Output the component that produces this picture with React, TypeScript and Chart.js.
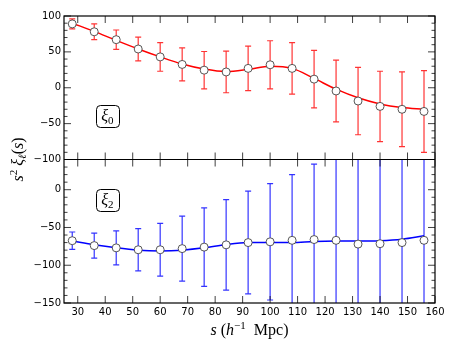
import React, { useEffect, useRef } from 'react';
import { Chart, registerables } from 'chart.js';

Chart.register(...registerables);

// ---- data ----
const sValues = [28, 36, 44, 52, 60, 68, 76, 84, 92, 100, 108, 116, 124, 132, 140, 148, 156];

const xi0Values = [89, 78, 67, 54, 43, 32.5, 24.5, 22, 27, 32, 27, 12, -4.5, -18.5, -26, -30, -33];
const xi0Errors = [7, 11, 13.5, 16.5, 20, 23, 26, 29, 31, 33.5, 36, 40, 43, 47, 49, 52, 57];
const xi0Model = [90, 78.5, 66, 54, 43, 33, 26, 22.5, 25.5, 30, 27, 13, -2, -14, -22.5, -27.5, -30];

const xi2Values = [-67.5, -74, -77, -79.5, -79.5, -78, -76, -73, -70, -69, -67, -66, -67, -72, -71.5, -70, -67];
const xi2Errors = [11.5, 16.5, 22.5, 28, 35, 43, 52, 60, 68, 77, 87, 100, 112, 125, 138, 150, 165];
const xi2Model = [-68, -73, -77, -80, -81, -80, -77, -72.5, -70, -70, -70, -68.5, -68, -68, -67.5, -65.5, -61];

const xTicks = [30, 40, 50, 60, 70, 80, 90, 100, 110, 120, 130, 140, 150, 160];
const yTopTicks = [-100, -50, 0, 50, 100];
const yBotTicks = [-150, -100, -50, 0];

const xRange = [25, 160];
const yTopRange = [-100, 100];
const yBotRange = [-150, 40];

const TICK_FONT = { family: 'DejaVu Sans', size: 10 };
const SERIF = 'Liberation Serif';

const fmt = (v: number) => (v < 0 ? '\u2212' + Math.abs(v) : String(v));

type Run = { t: string; size: number; italic?: boolean; dy?: number };

function runsWidth(ctx: CanvasRenderingContext2D, runs: Run[]) {
  let w = 0;
  for (const r of runs) {
    ctx.font = `${r.italic ? 'italic ' : ''}${r.size}px "${SERIF}"`;
    w += ctx.measureText(r.t).width;
  }
  return w;
}

function drawRuns(ctx: CanvasRenderingContext2D, runs: Run[], cx: number, baseline: number) {
  const w = runsWidth(ctx, runs);
  let x = cx - w / 2;
  ctx.textAlign = 'left';
  ctx.textBaseline = 'alphabetic';
  ctx.fillStyle = '#000';
  for (const r of runs) {
    ctx.font = `${r.italic ? 'italic ' : ''}${r.size}px "${SERIF}"`;
    ctx.fillText(r.t, x, baseline + (r.dy || 0));
    x += ctx.measureText(r.t).width;
  }
}

const errorSets = [
  { axis: 'yTop', values: xi0Values, errors: xi0Errors, color: 'rgba(255,0,0,0.8)' },
  { axis: 'yBot', values: xi2Values, errors: xi2Errors, color: 'rgba(0,0,255,0.8)' },
];

const panelPlugin = {
  id: 'panelPlugin',
  beforeDatasetsDraw(chart: any) {
    const ctx: CanvasRenderingContext2D = chart.ctx;
    const xs = chart.scales.x;
    const area = chart.chartArea;
    for (const set of errorSets) {
      const ys = chart.scales[set.axis];
      ctx.save();
      ctx.beginPath();
      ctx.rect(area.left, ys.top, area.right - area.left, ys.bottom - ys.top);
      ctx.clip();
      ctx.strokeStyle = set.color;
      ctx.lineWidth = 1.2;
      sValues.forEach((s, i) => {
        const px = xs.getPixelForValue(s);
        const hi = ys.getPixelForValue(set.values[i] + set.errors[i]);
        const lo = ys.getPixelForValue(set.values[i] - set.errors[i]);
        ctx.beginPath();
        ctx.moveTo(px, hi);
        ctx.lineTo(px, lo);
        ctx.moveTo(px - 3, hi);
        ctx.lineTo(px + 3, hi);
        ctx.moveTo(px - 3, lo);
        ctx.lineTo(px + 3, lo);
        ctx.stroke();
      });
      ctx.restore();
    }
  },
  afterDraw(chart: any) {
    const ctx: CanvasRenderingContext2D = chart.ctx;
    const area = chart.chartArea;
    const xs = chart.scales.x;
    const panels = [
      { s: chart.scales.yTop, ticks: yTopTicks, range: yTopRange, label: '0' },
      { s: chart.scales.yBot, ticks: yBotTicks, range: yBotRange, label: '2' },
    ];
    ctx.save();
    // ticks
    ctx.lineWidth = 1;
    for (const p of panels) {
      const top = p.s.top;
      const bot = p.s.bottom;
      ctx.beginPath();
      for (const v of xTicks) {
        const px = xs.getPixelForValue(v);
        ctx.moveTo(px, top);
        ctx.lineTo(px, top + 7);
        ctx.moveTo(px, bot);
        ctx.lineTo(px, bot - 7);
      }
      for (let v = Math.ceil(p.range[0] / 10) * 10; v <= p.range[1]; v += 10) {
        const py = p.s.getPixelForValue(v);
        const len = p.ticks.includes(v) ? 7 : 3.5;
        ctx.moveTo(area.left, py);
        ctx.lineTo(area.left + len, py);
        ctx.moveTo(area.right, py);
        ctx.lineTo(area.right - len, py);
      }
      ctx.strokeStyle = 'rgba(0,0,0,0.75)';
      ctx.stroke();
    }
    // frame and separator
    ctx.strokeStyle = '#000';
    ctx.lineWidth = 1.2;
    ctx.strokeRect(area.left, area.top, area.right - area.left, area.bottom - area.top);
    ctx.beginPath();
    ctx.moveTo(area.left, chart.scales.yTop.bottom);
    ctx.lineTo(area.right, chart.scales.yTop.bottom);
    ctx.stroke();

    // panel labels
    for (const p of panels) {
      const cx = area.left + 0.117 * (area.right - area.left);
      const cy = p.s.top + (p.label === '0' ? 0.695 : 0.28) * (p.s.bottom - p.s.top);
      const w = 23;
      const h = 22;
      ctx.fillStyle = '#fff';
      ctx.strokeStyle = '#000';
      ctx.lineWidth = 1;
      ctx.beginPath();
      (ctx as any).roundRect(Math.round(cx - w / 2) + 0.5, Math.round(cy - h / 2) + 0.5, w, h, 4);
      ctx.fill();
      ctx.stroke();
      drawRuns(
        ctx,
        [
          { t: '\u03BE', size: 16, italic: true },
          { t: p.label, size: 11, dy: 3 },
        ],
        cx,
        cy + 5
      );
    }

    // x title
    drawRuns(
      ctx,
      [
        { t: 's', size: 16, italic: true },
        { t: ' (', size: 16 },
        { t: 'h', size: 16, italic: true },
        { t: '\u22121', size: 11, dy: -6 },
        { t: '  Mpc)', size: 16 },
      ],
      (area.left + area.right) / 2,
      335
    );

    // y title
    ctx.save();
    ctx.translate(23, (area.top + area.bottom) / 2);
    ctx.rotate(-Math.PI / 2);
    drawRuns(
      ctx,
      [
        { t: 's', size: 16, italic: true },
        { t: '2', size: 11, dy: -6 },
        { t: ' \u03BE', size: 16, italic: true },
        { t: '\u2113', size: 11, italic: true, dy: 3 },
        { t: '(', size: 16 },
        { t: 's', size: 16, italic: true },
        { t: ')', size: 16 },
      ],
      0,
      0
    );
    ctx.restore();
    ctx.restore();
  },
};

const pts = (ys: number[]) => sValues.map((x, i) => ({ x, y: ys[i] }));

export default function App() {
  const ref = useRef<HTMLCanvasElement>(null);
  useEffect(() => {
    const canvas = ref.current!;
    const yCommon = (ticks: number[]) => ({
      type: 'linear' as const,
      position: 'left' as const,
      stack: 'panels',
      stackWeight: 1,
      grid: { display: false, drawTicks: false },
      border: { display: false },
      ticks: {
        padding: 3,
        color: '#000',
        font: TICK_FONT,
        autoSkip: false,
        callback: (v: any) => fmt(Number(v)),
      },
      afterBuildTicks: (s: any) => {
        s.ticks = ticks.map((v) => ({ value: v }));
      },
      afterFit: (s: any) => {
        s.width = 64;
      },
    });
    const marker = {
      showLine: false,
      pointRadius: 4,
      pointBackgroundColor: '#fff',
      pointBorderColor: '#444',
      pointBorderWidth: 0.9,
      order: 0,
    };
    const chart = new Chart(canvas, {
      type: 'line',
      data: {
        datasets: [
          { label: 'xi0 data', data: pts(xi0Values), yAxisID: 'yTop', ...marker },
          { label: 'xi2 data', data: pts(xi2Values), yAxisID: 'yBot', ...marker },
          {
            label: 'xi0 model',
            data: pts(xi0Model),
            yAxisID: 'yTop',
            borderColor: '#ff0000',
            borderWidth: 1.5,
            pointRadius: 0,
            cubicInterpolationMode: 'monotone',
            fill: false,
            order: 1,
          },
          {
            label: 'xi2 model',
            data: pts(xi2Model),
            yAxisID: 'yBot',
            borderColor: '#0000ff',
            borderWidth: 1.5,
            pointRadius: 0,
            cubicInterpolationMode: 'monotone',
            fill: false,
            order: 1,
          },
        ],
      },
      options: {
        responsive: false,
        animation: false,
        devicePixelRatio: 1,
        layout: { padding: { top: 16, right: 23, bottom: 0, left: 0 } },
        plugins: { legend: { display: false }, tooltip: { enabled: false } },
        scales: {
          x: {
            type: 'linear',
            position: 'bottom',
            min: xRange[0],
            max: xRange[1],
            grid: { display: false, drawTicks: false },
            border: { display: false },
            ticks: {
              padding: 3,
              color: '#000',
              font: TICK_FONT,
              autoSkip: false,
              maxRotation: 0,
              callback: (v: any) => fmt(Number(v)),
            },
            afterBuildTicks: (s: any) => {
              s.ticks = xTicks.map((v) => ({ value: v }));
            },
            afterFit: (s: any) => {
              s.height = 42;
            },
          },
          yBot: { ...yCommon(yBotTicks), min: yBotRange[0], max: yBotRange[1] },
          yTop: { ...yCommon(yTopTicks), min: yTopRange[0], max: yTopRange[1] },
        } as any,
      },
      plugins: [panelPlugin],
    } as any);
    return () => chart.destroy();
  }, []);
  return (
    <div style={{ position: 'absolute', left: 0, top: 0, width: 458, height: 345 }}>
      <canvas ref={ref} width={458} height={345} style={{ display: 'block' }} />
    </div>
  );
}
